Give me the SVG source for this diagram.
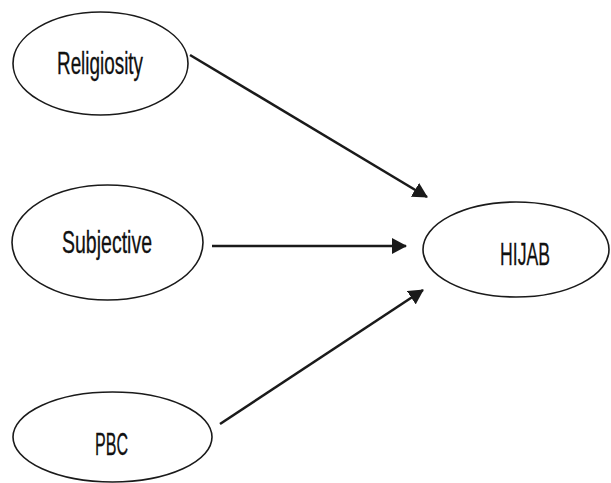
<svg xmlns="http://www.w3.org/2000/svg" width="611" height="483" viewBox="0 0 611 483">
  <style>
    .node ellipse { fill: #ffffff; stroke: #1a1a1a; stroke-width: 1.6; }
    .node text { font-family: "Liberation Sans", Arial, sans-serif; font-size: 32px; fill: #111111; text-anchor: middle; stroke: #111111; stroke-width: 0.3; }
    .edge { stroke: #1a1a1a; stroke-width: 2.6; fill: none; marker-end: url(#arrow); }
  </style>
  <defs>
    <marker id="arrow" markerUnits="userSpaceOnUse" markerWidth="15" markerHeight="16" refX="14" refY="8" orient="auto">
      <path d="M0,0 L15,8 L0,16 z" fill="#1a1a1a"/>
    </marker>
  </defs>
  <rect width="611" height="483" fill="#ffffff"/>
  <g id="connectors">
    <line class="edge" x1="190" y1="55" x2="427" y2="197"/>
    <line class="edge" x1="212" y1="246" x2="406" y2="246"/>
    <line class="edge" x1="220" y1="424" x2="423" y2="290"/>
  </g>
  <g id="religiosity" class="node">
    <ellipse cx="100.5" cy="63.5" rx="87.5" ry="51.5"/>
    <text x="100" y="74" textLength="86" lengthAdjust="spacingAndGlyphs">Religiosity</text>
  </g>
  <g id="subjective" class="node">
    <ellipse cx="107.5" cy="242.5" rx="95.5" ry="57.5"/>
    <text x="107" y="253" textLength="90" lengthAdjust="spacingAndGlyphs">Subjective</text>
  </g>
  <g id="hijab" class="node">
    <ellipse cx="516" cy="249.5" rx="93" ry="47.5"/>
    <text x="525" y="265" textLength="50" lengthAdjust="spacingAndGlyphs">HIJAB</text>
  </g>
  <g id="pbc" class="node">
    <ellipse cx="112.5" cy="437" rx="99.5" ry="45"/>
    <text x="111.5" y="455" textLength="33" lengthAdjust="spacingAndGlyphs">PBC</text>
  </g>
</svg>
